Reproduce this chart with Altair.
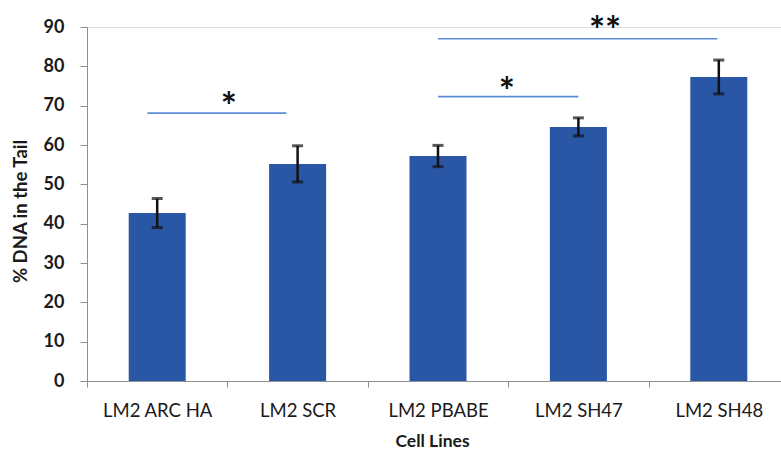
import altair as alt
import pandas as pd

# Comet assay: % DNA in the tail per cell line (mean ± error)
cell_lines = ["LM2 ARC HA", "LM2 SCR", "LM2 PBABE", "LM2 SH47", "LM2 SH48"]
dna_tail = [42.7, 55.2, 57.2, 64.6, 77.3]
dna_err = [3.7, 4.6, 2.7, 2.3, 4.3]

# Significance brackets, x in category-slot units (0 = left edge of first slot)
sig_start = [0.43, 2.50, 2.50]
sig_end = [1.42, 3.50, 4.49]
sig_level = [68.1, 72.3, 87.0]

# Star markers above the brackets
star_text = ["*", "*", "**"]
star_x = [1.01, 2.99, 3.69]
star_y = [71.8, 75.4, 90.9]

FONT = "Lato"
AXIS_GRAY = "#8f8f8f"
BAR_BLUE = "#2a56a6"
LINE_BLUE = "#5b8bd6"

PLOT_W = 702  # full slot span; the page crops the last few pixels
VIEW_W = 694
PLOT_H = 354

bars_df = pd.DataFrame({
    "cell": cell_lines,
    "value": dna_tail,
    "lo": [v - e for v, e in zip(dna_tail, dna_err)],
    "hi": [v + e for v, e in zip(dna_tail, dna_err)],
})
sig_df = pd.DataFrame({"x1": sig_start, "x2": sig_end, "value": sig_level})
star_df = pd.DataFrame({"label": star_text, "x": star_x, "value": star_y})

x_axis = alt.Axis(
    title="Cell Lines",
    labelAngle=0,
    tickBand="extent",
    tickSize=6,
    labelPadding=23,
    labelBaseline="middle",
    labelFontSize=18.5,
    labelFont=FONT,
    labelColor="#1a1a1a",
    titleFont=FONT,
    titleFontSize=17.5,
    titleFontWeight="bold",
    titleColor="#1a1a1a",
    titleX=345,
    titleY=60,
    titleBaseline="middle",
    domainColor=AXIS_GRAY,
    tickColor=AXIS_GRAY,
    grid=False,
)
x_scale = alt.Scale(range=[0, PLOT_W], paddingInner=0, paddingOuter=0)

y_axis = alt.Axis(
    title="% DNA in the Tail",
    values=list(range(0, 91, 10)),
    tickSize=7,
    labelPadding=16,
    labelFont=FONT,
    labelFontSize=18,
    labelFontWeight="bold",
    labelColor="#1a1a1a",
    labelOverlap=False,
    titleFont=FONT,
    titleFontSize=18.5,
    titleFontWeight="bold",
    titleColor="#1a1a1a",
    titleAngle=270,
    titleX=-67,
    titleY=184,
    titleAlign="center",
    titleBaseline="middle",
    domainColor=AXIS_GRAY,
    tickColor=AXIS_GRAY,
    grid=False,
)
y_scale = alt.Scale(domain=[0, 90], nice=False)


def xb():
    return alt.X("cell:N", sort=cell_lines, scale=x_scale, axis=x_axis)


def yq(field):
    return alt.Y(f"{field}:Q", scale=y_scale, axis=y_axis, title="% DNA in the Tail")


base = alt.Chart(bars_df)
bars = base.mark_bar(size=57, color=BAR_BLUE).encode(x=xb(), y=yq("value"))
err_stem = base.mark_rule(color="#111111", strokeWidth=2.5).encode(
    x=xb(), y=yq("lo"), y2="hi:Q"
)
err_top = base.mark_tick(color="#111111", size=11, thickness=3).encode(
    x=xb(), y=yq("hi")
)
err_bot = base.mark_tick(color="#111111", size=11, thickness=3).encode(
    x=xb(), y=yq("lo")
)
data_layer = alt.layer(bars, err_stem, err_top, err_bot)

x_slot = alt.Scale(domain=[0, 5], range=[0, PLOT_W], nice=False, zero=False)
brackets = alt.Chart(sig_df).mark_rule(color=LINE_BLUE, strokeWidth=1.6).encode(
    x=alt.X("x1:Q", scale=x_slot, axis=None),
    x2="x2:Q",
    y=yq("value"),
)
stars = alt.Chart(star_df).mark_text(
    font=FONT, fontSize=38, fontWeight="bold", color="#111111",
    baseline="middle", dy=10,
).encode(
    x=alt.X("x:Q", scale=x_slot, axis=None),
    y=yq("value"),
    text="label:N",
)
notes_layer = alt.layer(brackets, stars)

chart = (
    alt.layer(data_layer, notes_layer)
    .resolve_scale(x="independent")
    .properties(
        width=VIEW_W,
        height=PLOT_H,
        autosize=alt.AutoSizeParams(type="none"),
        padding={"left": 87, "top": 27, "right": 0, "bottom": 71},
    )
    .configure_view(stroke=None)
    .configure(background="white")
)

chart.save("out.html", embed_options={"renderer": "svg", "actions": False})
